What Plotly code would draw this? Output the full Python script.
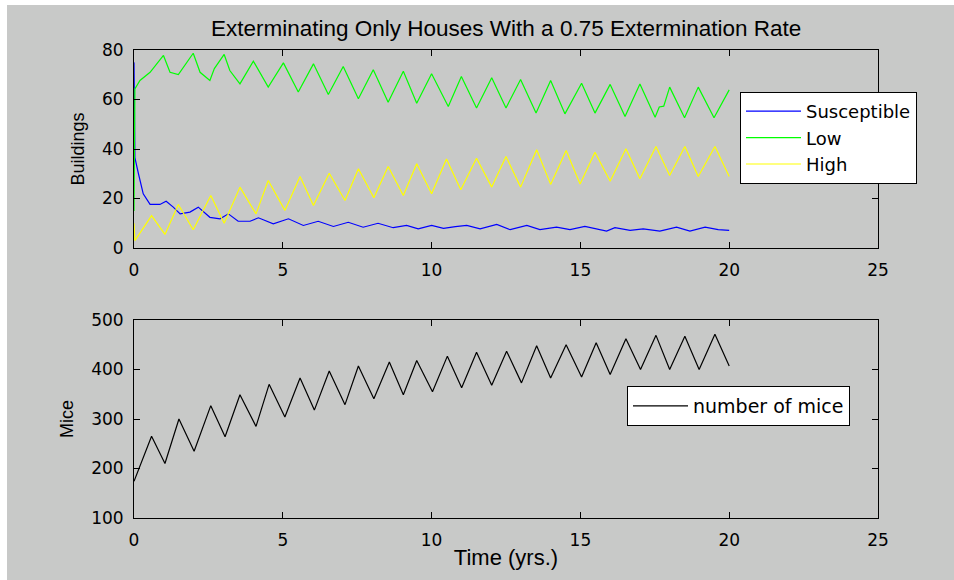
import plotly.graph_objects as go

# ---------------- data ----------------
t_sus = [0, 0.03, 0.15, 0.31, 0.54, 0.87, 1.08, 1.32, 1.55, 1.88, 2.16, 2.55, 2.89, 3.17, 3.5, 3.9,
         4.18, 4.68, 5.19, 5.69, 6.19, 6.7, 7.2, 7.7, 8.2, 8.71, 9.16, 9.55, 10.0, 10.4, 10.8, 11.18,
         11.63, 12.19, 12.64, 13.2, 13.64, 14.2, 14.65, 15.15, 15.88, 16.16, 16.67, 17.11, 17.67,
         18.23, 18.68, 19.19, 19.63, 20.0]
susceptible = [75, 36.5, 30, 21.9, 17.6, 17.6, 18.9, 16.5, 13.8, 14.5, 16.5, 12.4, 11.8, 13.8, 10.8, 10.8,
               12.2, 9.8, 11.8, 9.1, 10.8, 8.7, 10.4, 8.4, 10.0, 8.2, 9.1, 7.7, 9.1, 7.9, 8.6, 9.1,
               7.7, 9.5, 7.4, 9.1, 7.4, 8.4, 7.4, 8.7, 6.8, 8.2, 7.1, 7.7, 6.8,
               8.4, 6.8, 8.4, 7.4, 7.1]

t_low = [0, 0.03, 0.2, 0.54, 0.99, 1.21, 1.49, 1.99, 2.22, 2.55, 2.7, 3.03, 3.22, 3.56, 4.01, 4.51, 5.02,
         5.52, 6.03, 6.53, 7.03, 7.54, 8.04, 8.54, 9.05, 9.5, 10.0, 10.56, 11.0, 11.51, 12.02, 12.5,
         12.99, 13.51, 14.0, 14.48, 15.04, 15.49, 16.0, 16.5, 17.0, 17.51, 17.65, 17.8, 18.0, 18.5,
         18.96, 19.49, 20.0]
low = [15, 64.3, 67.7, 71, 77.8, 71, 70.1, 78.7, 71, 67.7, 72.5, 78.2, 71.7, 66.3, 75.5, 65, 74.8,
       63, 74.4, 62, 73.3, 60.3, 72, 58.9, 71.4, 58.5, 70.4, 57.2, 69.3, 56.6, 68.8, 56.6,
       68.1, 54.5, 67.7, 54.2, 66.6, 54.5, 66.1, 53.1, 66.3, 52.8, 57, 57.3, 65, 52.6,
       65, 52.6, 63.9]

t_high = [0, 0.03, 0.59, 1.04, 1.49, 1.99, 2.58, 3.03, 3.56, 4.1, 4.51, 5.07, 5.58, 6.03, 6.56, 7.09,
          7.54, 8.06, 8.54, 9.05, 9.5, 10.0, 10.5, 10.98, 11.51, 12.02, 12.5, 12.99, 13.53, 14.0,
          14.52, 14.99, 15.49, 16.0, 16.53, 17.0, 17.54, 18.0, 18.51, 18.96, 19.52, 20.0]
high = [10, 3, 13.1, 5.5, 17.6, 7.4, 21.2, 10, 24.6, 13.8, 27.3, 15.2, 28.9, 17.2, 30.2, 19.2,
        32, 20.3, 32.9, 21.2, 34, 21.9, 36, 23.5, 36.3, 24.6, 37, 24.6, 39.7, 25.7,
        39.4, 25.9, 38.7, 27, 40.1, 28, 41, 29.3, 41, 28.9, 41, 28.9]

t_mice = [0, 0.59, 1.04, 1.51, 2.02, 2.58, 3.06, 3.56, 4.1, 4.54, 5.07, 5.58, 6.06, 6.56, 7.09, 7.54,
          8.06, 8.58, 9.05, 9.5, 10.03, 10.53, 11.01, 11.51, 12.02, 12.52, 13.02, 13.53, 14.0, 14.52,
          15.04, 15.53, 16.0, 16.53, 17.02, 17.54, 18.0, 18.51, 18.99, 19.52, 20.0]
mice = [174, 265, 210, 300, 235, 327, 264, 349, 285, 370, 304, 383, 318, 397, 329, 407,
        341, 415, 349, 418, 355, 427, 363, 435, 368, 437, 373, 448, 383, 450,
        385, 454, 390, 462, 400, 469, 400, 467, 400, 471, 407]

x_ticks = [0, 5, 10, 15, 20, 25]
y1_ticks = [0, 20, 40, 60, 80]
y2_ticks = [100, 200, 300, 400, 500]

title_text = "Exterminating Only Houses With a 0.75 Extermination Rate"

# ---------------- figure ----------------
W, H = 954, 580
ML, MR, MT, MB = 134, 76, 50, 62
PW, PH = W - ML - MR, H - MT - MB


def px(x):
    return (x - ML) / PW


def py(y):
    return (H - MB - y) / PH


fig = go.Figure()
fig.add_trace(go.Scatter(x=t_sus, y=susceptible, name="Susceptible", mode="lines",
                         line=dict(color="#0000ff", width=1.2), xaxis="x", yaxis="y", legend="legend"))
fig.add_trace(go.Scatter(x=t_low, y=low, name="Low", mode="lines",
                         line=dict(color="#00ff00", width=1.2), xaxis="x", yaxis="y", legend="legend"))
fig.add_trace(go.Scatter(x=t_high, y=high, name="High", mode="lines",
                         line=dict(color="#ffff00", width=1.2), xaxis="x", yaxis="y", legend="legend"))
fig.add_trace(go.Scatter(x=t_mice, y=mice, name="number of mice", mode="lines",
                         line=dict(color="#000000", width=1.2), xaxis="x2", yaxis="y2", legend="legend2"))

FONT = "Liberation Sans"
TICKFONT = dict(family="DejaVu Sans", size=17, color="#000000")

axis_common = dict(showline=True, linecolor="#000000", linewidth=1, mirror="allticks",
                   ticks="inside", ticklen=6, tickcolor="#000000", tickwidth=1,
                   showgrid=False, zeroline=False, tickfont=TICKFONT)

y_top0 = py(248)
y_bot1 = py(320)

fig.update_layout(
    width=W, height=H,
    margin=dict(l=ML, r=MR, t=MT, b=MB, autoexpand=False),
    paper_bgcolor="#ffffff",
    plot_bgcolor="#ffffff",
    showlegend=True,
    xaxis=dict(domain=[0, 1], range=[0, 25], tickvals=x_ticks, anchor="y",
               ticklabelstandoff=7, **axis_common),
    yaxis=dict(domain=[y_top0, 1], range=[0, 80], tickvals=y1_ticks, anchor="x",
               ticklabelstandoff=6,
               title=dict(text="Buildings", font=dict(family=FONT, size=18, color="#000000"), standoff=12),
               **axis_common),
    xaxis2=dict(domain=[0, 1], range=[0, 25], tickvals=x_ticks, anchor="y2",
                ticklabelstandoff=7,
                title=dict(text="Time (yrs.)", font=dict(family=FONT, size=22, color="#000000"), standoff=0),
                **axis_common),
    yaxis2=dict(domain=[0, y_bot1], range=[100, 500], tickvals=y2_ticks, anchor="x2",
                ticklabelstandoff=6,
                title=dict(text="Mice", font=dict(family=FONT, size=18, color="#000000"), standoff=12),
                **axis_common),
    legend=dict(x=px(740), y=py(92), xanchor="left", yanchor="top",
                bgcolor="#ffffff", bordercolor="#000000", borderwidth=1, itemwidth=55,
                font=dict(family="DejaVu Sans", size=18, color="#000000"), tracegroupgap=0),
    legend2=dict(x=px(627), y=py(386), xanchor="left", yanchor="top",
                 bgcolor="#ffffff", bordercolor="#000000", borderwidth=1, itemwidth=55,
                 font=dict(family="DejaVu Sans", size=19, color="#000000")),
    annotations=[dict(text=title_text, xref="paper", yref="paper", x=0.5, y=py(29),
                      xanchor="center", yanchor="middle", showarrow=False,
                      font=dict(family=FONT, size=22.5, color="#000000"))],
    shapes=[dict(type="rect", xref="paper", yref="paper", layer="below",
                 x0=px(7), x1=px(954), y0=py(580), y1=py(5),
                 fillcolor="#c8c9c8", line=dict(width=0))],
)

fig.write_html("out.html")
